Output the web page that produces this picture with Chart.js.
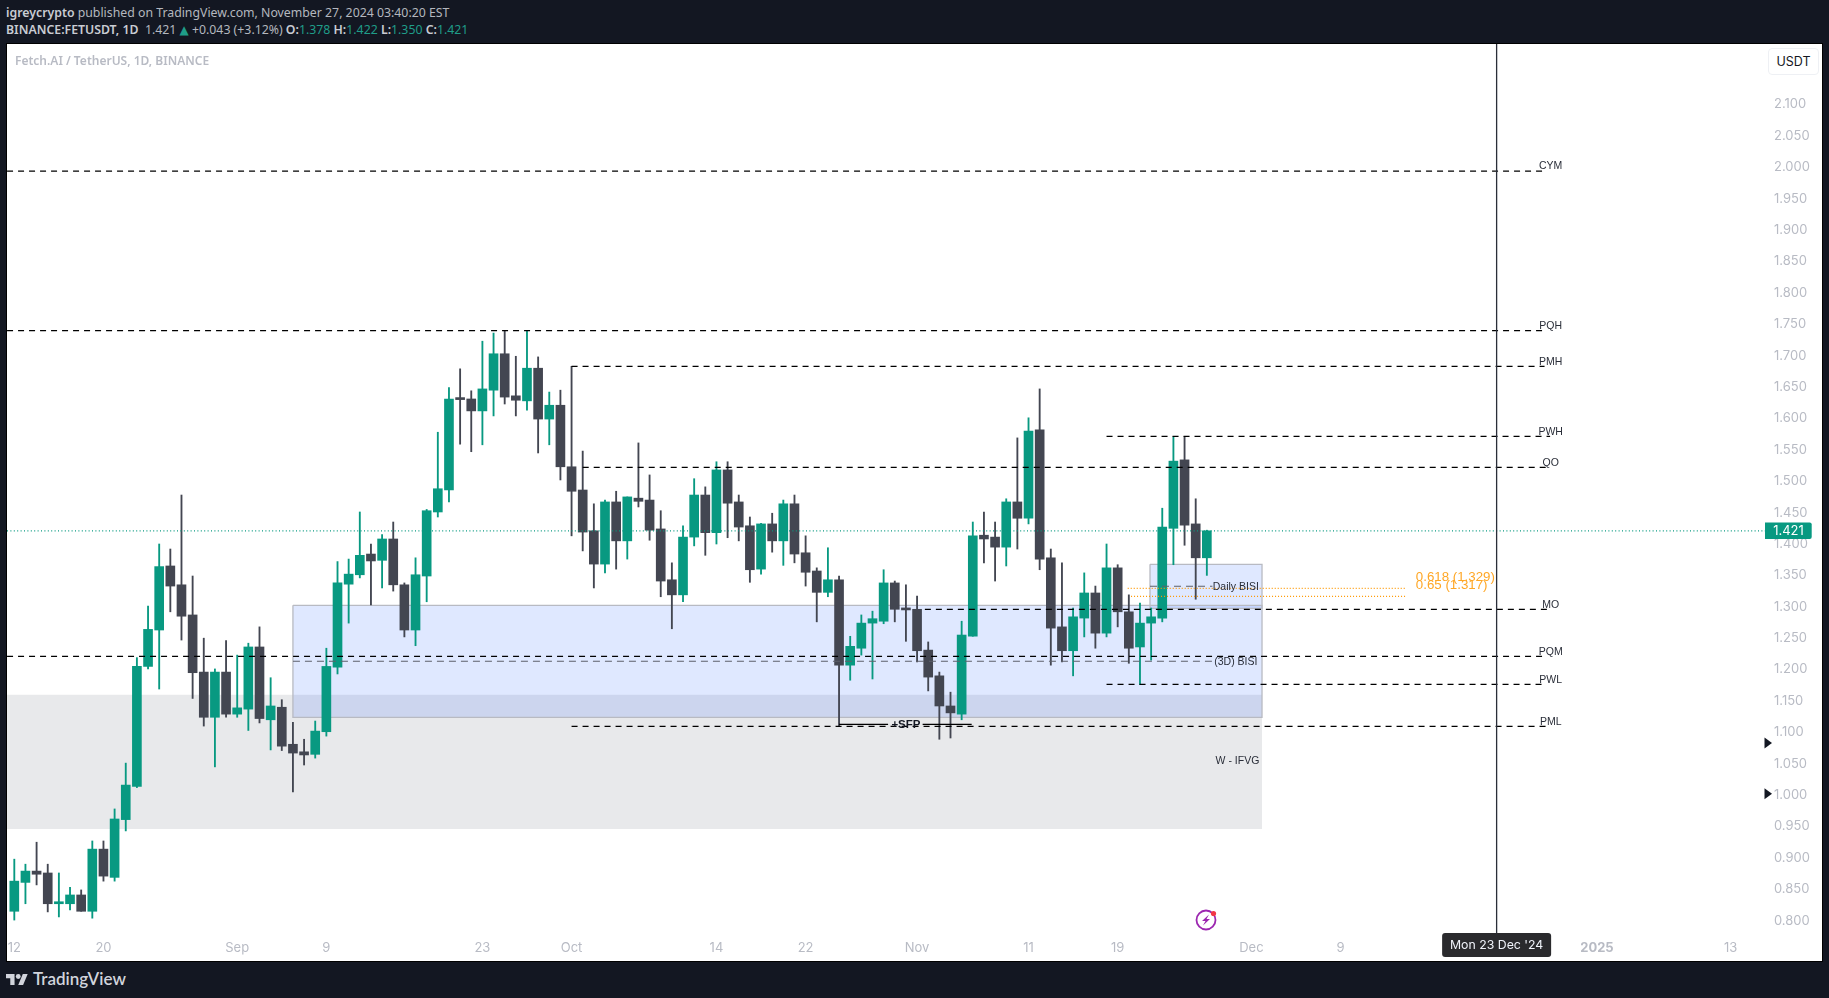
<!DOCTYPE html>
<html>
<head>
<meta charset="utf-8">
<title>FETUSDT</title>
<script src="https://cdn.jsdelivr.net/npm/chart.js@4/dist/chart.umd.min.js"></script>
<style>
  html, body { margin: 0; padding: 0; background: #131722; width: 1829px; height: 998px; overflow: hidden; }
  .line { position: absolute; left: 6px; font: 12.3px "Noto Sans", sans-serif; color: #b4b7bf; white-space: pre; line-height: 18px; }
  .line b { font-weight: 600; color: #c9ccd3; }
  .line i { font-style: normal; color: #1f9d89; }
  .line .tri { font: 12px "DejaVu Sans", sans-serif; }
  #pane { position: absolute; left: 7px; top: 44px; width: 1815px; height: 917px; background: #fff; box-shadow: 0 0 0 1px #000; }
  #pane canvas { position: absolute; left: 0; top: 0; }
  #title { position: absolute; left: 15px; top: 52px; font: 600 12px "Noto Sans", sans-serif; color: #b8bbc4; }
  #unit { position: absolute; left: 1768px; top: 48px; width: 49px; height: 25px; border: 1px solid #eef0f4; border-radius: 4px; background: #fff; font: 12.5px Inter, sans-serif; color: #131722; text-align: center; line-height: 25px; }
  #spark { position: absolute; left: 1194px; top: 908px; }
  #logo { position: absolute; left: 6px; top: 974px; }
  #brand { position: absolute; left: 33px; top: 969px; font: 600 17px Lato, sans-serif; color: #d1d4dc; line-height: 20px; }
</style>
</head>
<body>
<div class="line" style="top:4px"><b>igreycrypto</b> published on TradingView.com, November 27, 2024 03:40:20 EST</div>
<div class="line" style="top:21px"><b>BINANCE:FETUSDT, 1D</b>  1.421 <i class="tri">▲</i> +0.043 (+3.12%) <b>O:</b><i>1.378</i> <b>H:</b><i>1.422</i> <b>L:</b><i>1.350</i> <b>C:</b><i>1.421</i></div>
<div id="pane"><canvas id="chart" width="1815" height="917"></canvas></div>
<div id="title">Fetch.AI / TetherUS, 1D, BINANCE</div>
<div id="unit">USDT</div>
<svg id="spark" width="24" height="24" viewBox="0 0 24 24">
  <circle cx="12" cy="12" r="9.5" fill="none" stroke="#9c27b0" stroke-width="1.8"/>
  <path d="M15 6.5 L8 13 L11.5 13 L9 17.5 L16 11 L12.5 11 Z" fill="#9c27b0"/>
  <circle cx="19.5" cy="5.5" r="2.6" fill="#f23645"/>
</svg>
<svg id="logo" width="22" height="11" viewBox="0 4 36 18" fill="#d1d4dc">
  <path d="M14 22H7V11H0V4h14v18zM28 22h-8l7.5-18h8L28 22z"/><circle cx="20" cy="8" r="4"/>
</svg>
<div id="brand">TradingView</div>

<script>
// daily candles, index 0 = 12 Aug 2024
const opens = [0.815,0.861,0.879,0.876,0.827,0.827,0.841,0.815,0.914,0.869,0.961,1.014,1.205,1.263,1.365,1.335,1.287,1.196,1.124,1.196,1.129,1.137,1.236,1.120,1.140,1.081,1.069,1.065,1.101,1.204,1.336,1.351,1.384,1.374,1.408,1.335,1.263,1.349,1.451,1.486,1.631,1.631,1.612,1.645,1.703,1.636,1.628,1.680,1.599,1.621,1.523,1.486,1.421,1.368,1.467,1.405,1.473,1.470,1.424,1.343,1.319,1.411,1.478,1.418,1.518,1.467,1.429,1.360,1.432,1.405,1.464,1.386,1.357,1.323,1.343,1.207,1.234,1.274,1.277,1.338,1.298,1.296,1.231,1.190,1.142,1.129,1.253,1.414,1.411,1.395,1.467,1.441,1.582,1.378,1.268,1.230,1.282,1.322,1.258,1.362,1.292,1.236,1.274,1.282,1.425,1.534,1.432,1.378];
const highs = [0.898,0.890,0.925,0.890,0.876,0.853,0.849,0.927,0.927,0.978,1.051,1.219,1.301,1.400,1.392,1.478,1.349,1.250,1.201,1.246,1.223,1.242,1.268,1.187,1.152,1.116,1.089,1.118,1.234,1.372,1.376,1.451,1.400,1.415,1.435,1.338,1.378,1.455,1.578,1.649,1.679,1.644,1.723,1.736,1.740,1.699,1.740,1.698,1.642,1.645,1.683,1.548,1.464,1.470,1.484,1.475,1.561,1.510,1.453,1.370,1.429,1.504,1.491,1.531,1.531,1.478,1.443,1.433,1.449,1.470,1.478,1.413,1.362,1.394,1.349,1.253,1.287,1.293,1.359,1.341,1.335,1.317,1.244,1.196,1.164,1.277,1.435,1.451,1.435,1.472,1.569,1.601,1.647,1.392,1.370,1.298,1.354,1.333,1.400,1.367,1.319,1.306,1.298,1.457,1.571,1.571,1.472,1.422];
const lows = [0.801,0.827,0.857,0.814,0.806,0.817,0.815,0.804,0.863,0.863,0.943,1.012,1.201,1.169,1.292,1.247,1.154,1.110,1.045,1.124,1.124,1.103,1.115,1.072,1.071,1.005,1.048,1.059,1.094,1.193,1.274,1.346,1.303,1.330,1.325,1.252,1.238,1.308,1.443,1.467,1.559,1.547,1.558,1.604,1.623,1.604,1.613,1.545,1.558,1.502,1.413,1.389,1.330,1.354,1.360,1.376,1.459,1.406,1.316,1.265,1.308,1.397,1.382,1.400,1.410,1.405,1.339,1.352,1.387,1.366,1.370,1.333,1.276,1.316,1.110,1.183,1.223,1.185,1.273,1.276,1.245,1.212,1.166,1.089,1.091,1.120,1.253,1.370,1.341,1.365,1.392,1.432,1.359,1.207,1.212,1.190,1.252,1.234,1.252,1.268,1.210,1.176,1.215,1.276,1.367,1.398,1.312,1.350];
const closes = [0.863,0.879,0.874,0.827,0.828,0.841,0.815,0.914,0.871,0.962,1.016,1.205,1.264,1.364,1.333,1.285,1.195,1.124,1.196,1.129,1.139,1.236,1.122,1.142,1.078,1.067,1.064,1.102,1.205,1.338,1.352,1.382,1.373,1.408,1.335,1.263,1.351,1.453,1.488,1.631,1.630,1.612,1.647,1.703,1.634,1.629,1.680,1.599,1.621,1.523,1.484,1.419,1.368,1.467,1.405,1.475,1.468,1.422,1.341,1.319,1.411,1.478,1.418,1.518,1.465,1.427,1.359,1.432,1.405,1.464,1.384,1.355,1.323,1.343,1.207,1.237,1.274,1.281,1.338,1.296,1.295,1.230,1.188,1.142,1.131,1.255,1.413,1.408,1.395,1.467,1.441,1.580,1.376,1.266,1.230,1.284,1.322,1.258,1.362,1.292,1.234,1.274,1.284,1.427,1.532,1.430,1.378,1.421];

const priceTicks = [0.8,0.85,0.9,0.95,1,1.05,1.1,1.15,1.2,1.25,1.3,1.35,1.4,1.45,1.5,1.55,1.6,1.65,1.7,1.75,1.8,1.85,1.9,1.95,2,2.05,2.1];
const dayTicks = [0,8,20,28,42,50,63,71,81,91,99,111,119,142,154];
const dayLabels = ["12","20","Sep","9","23","Oct","14","22","Nov","11","19","Dec","9","2025","13"];

// key levels
const levelNames = ["CYM","PQH","PMH","PWH","QO","MO","PQM","PWL","PML"];
const levelPrices = [1.994,1.740,1.683,1.5715,1.522,1.296,1.221,1.1765,1.1096];
const levelStarts = [-0.65,-0.65,50,98,51,81.7,-0.65,98,50];
const levelEnds = [137.3,137.2,137.3,137.8,137.8,137.6,137.2,137.2,137.8];
const levelLabelDay = 137.85;

// shaded zones
const zoneStarts = [-0.65,25,101.9];
const zoneEnds = [111.95,111.95,111.95];
const zoneTops = [1.1597,1.3023,1.3676];
const zoneBottoms = [0.946,1.1239,1.2975];

// BISI midlines
const midNames = ["(3D) BISI","Daily BISI"];
const midPrices = [1.2132,1.3326];
const midStarts = [25,101.9];
const midEnds = [107.5,107.5];
const midLabelDay = 109.6;

// fib
const fibNames = ["0.618 (1.329)","0.65 (1.317)"];
const fibPrices = [1.3294,1.3166];
const fibStarts = [99.9,100.2];
const fibEnd = 124.8;
const fibLabelDay = 125.75;

const sfpPrice = 1.1128;
const sfpSegments = [[74,78.4],[81.5,85.9]];
const lastPrice = 1.421;
const crossDay = 133;
const crossLabel = "Mon 23 Dec '24";
const markerPrices = [1.083,1.002];

const xMin = -0.655, xMax = 157.08, yMin = 0.7804, yMax = 2.1964;
const UP = "#089981", DOWN = "#434651";

function flat(x0, x1, price, color, dash, width, order) {
  return {
    type: "line", data: [{ x: x0, y: price }, { x: x1, y: price }],
    borderColor: color, borderDash: dash, borderWidth: width,
    pointRadius: 0, tension: 0, fill: false, order: order,
  };
}

const datasets = [];

// zones at the back
zoneStarts.forEach((s, i) => {
  const e = zoneEnds[i], t = zoneTops[i], b = zoneBottoms[i];
  datasets.push({
    type: "line", data: [{ x: s, y: t }, { x: e, y: t }],
    borderWidth: 0, pointRadius: 0, fill: { value: b },
    backgroundColor: i === 0 ? "rgba(120,123,134,0.17)" : "rgba(41,98,255,0.15)",
    order: 60 - i,
  });
  if (i > 0) {
    datasets.push({
      type: "line", data: [{ x: s, y: t }, { x: e, y: t }, { x: e, y: b }, { x: s, y: b }, { x: s, y: t }],
      borderColor: "#b8bac2", borderWidth: 1.3, pointRadius: 0, tension: 0, fill: false, order: 50,
    });
  }
});

// candles
const candleColors = closes.map((c, i) => (c >= opens[i] ? UP : DOWN));
datasets.push({
  type: "bar", data: highs.map((h, i) => ({ x: i, y: [lows[i], h] })),
  backgroundColor: candleColors, barThickness: 1.2, grouped: false, order: 20,
});
datasets.push({
  type: "bar", data: opens.map((o, i) => ({ x: i, y: [o, closes[i]] })),
  backgroundColor: candleColors, barThickness: 9, grouped: false, minBarLength: 2, order: 10,
});

// drawings over the candles
datasets.push(flat(xMin, xMax, lastPrice, UP, [1, 2.4], 1.2, 9));
levelPrices.forEach((p, i) => {
  datasets.push(flat(levelStarts[i], levelEnds[i], p, "#000000", [6, 5], 1.3, 6));
});
midPrices.forEach((p, i) => {
  datasets.push(flat(midStarts[i], midEnds[i], p, "#5d606b", [7, 5], 1.1, 7));
});
fibPrices.forEach((p, i) => {
  datasets.push(flat(fibStarts[i], fibEnd, p, "#ff9800", [1, 2], 1.2, 7));
});
sfpSegments.forEach((s) => {
  datasets.push(flat(s[0], s[1], sfpPrice, "#000000", [], 1.3, 5));
});
datasets.push({
  type: "line", data: [{ x: crossDay, y: yMin }, { x: crossDay, y: yMax }],
  borderColor: "#2a2e39", borderWidth: 1.3, pointRadius: 0, fill: false, order: 1,
});

// texts and tags sitting on the scales
const chartNotes = {
  id: "chartNotes",
  afterDraw(chart) {
    const { ctx, scales } = chart;
    const px = (d) => scales.x.getPixelForValue(d);
    const py = (p) => scales.y.getPixelForValue(p);
    ctx.save();
    ctx.textBaseline = "middle";

    ctx.font = '10.5px "Liberation Sans", sans-serif';
    ctx.fillStyle = "#2a2e39";
    ctx.textAlign = "center";
    levelNames.forEach((n, i) => ctx.fillText(n, px(levelLabelDay), py(levelPrices[i]) - 4.5));
    midNames.forEach((n, i) => ctx.fillText(n, px(midLabelDay), py(midPrices[i]) + 0.5));
    ctx.fillText("W - IFVG", px(109.75), py(1.0543) + 0.5);

    ctx.font = 'bold 11.5px "Liberation Sans", sans-serif';
    ctx.fillStyle = "#131722";
    ctx.fillText("+SFP", px(80), py(sfpPrice) + 0.5);

    ctx.font = '13.3px "Liberation Sans", sans-serif';
    ctx.fillStyle = "#ffa726";
    ctx.textAlign = "left";
    fibNames.forEach((n, i) => ctx.fillText(n, px(fibLabelDay), py(fibPrices[i]) - 11));

    // last price tag
    const tagY = py(lastPrice);
    ctx.fillStyle = UP;
    ctx.beginPath();
    ctx.roundRect(1758, tagY - 8.2, 46.7, 16.4, [0, 2, 2, 0]);
    ctx.fill();
    ctx.font = "13px Inter, sans-serif";
    ctx.fillStyle = "#ffffff";
    ctx.textAlign = "center";
    ctx.fillText(lastPrice.toFixed(3), 1781.5, tagY + 0.5);

    // crosshair date tag
    const crossX = px(crossDay);
    ctx.fillStyle = "#2a2a2d";
    ctx.beginPath();
    ctx.roundRect(crossX - 54.5, chart.chartArea.bottom, 109, 24, 3);
    ctx.fill();
    ctx.font = "12.3px Inter, sans-serif";
    ctx.fillStyle = "#f0f3fa";
    ctx.fillText(crossLabel, crossX, chart.chartArea.bottom + 12.5);

    // small arrows at the price axis
    ctx.fillStyle = "#131722";
    markerPrices.forEach((p) => {
      const y = py(p);
      ctx.beginPath();
      ctx.moveTo(1757.5, y - 5.5);
      ctx.lineTo(1765, y);
      ctx.lineTo(1757.5, y + 5.5);
      ctx.closePath();
      ctx.fill();
    });
    ctx.restore();
  },
};

new Chart(document.getElementById("chart"), {
  type: "bar",
  data: { datasets: datasets },
  plugins: [chartNotes],
  options: {
    responsive: false,
    animation: false,
    devicePixelRatio: 1,
    layout: { padding: 0 },
    plugins: { legend: { display: false }, tooltip: { enabled: false } },
    scales: {
      x: {
        type: "linear", min: xMin, max: xMax, offset: false,
        grid: { display: false, drawTicks: false }, border: { display: false },
        afterBuildTicks(s) { s.ticks = dayTicks.map((v) => ({ value: v })); },
        afterFit(s) { s.height = 28; s.paddingLeft = 0; s.paddingRight = 0; },
        ticks: {
          autoSkip: false, maxRotation: 0, padding: 7, color: "#b8bbc4",
          font: (c) => ({ family: "Inter, sans-serif", size: 13, weight: c.tick && c.tick.label === "2025" ? "bold" : "normal" }),
          callback: (v, i) => dayLabels[i],
        },
      },
      y: {
        type: "linear", position: "right", min: yMin, max: yMax,
        grid: { display: false, drawTicks: false }, border: { display: false },
        afterBuildTicks(s) { s.ticks = priceTicks.map((v) => ({ value: v })); },
        afterFit(s) { s.width = 57; s.paddingTop = 0; s.paddingBottom = 0; },
        ticks: {
          autoSkip: false, padding: 9, color: "#b8bbc4",
          font: { family: "Inter, sans-serif", size: 13 },
          callback: (v) => v.toFixed(3),
        },
      },
    },
  },
});
</script>
</body>
</html>
